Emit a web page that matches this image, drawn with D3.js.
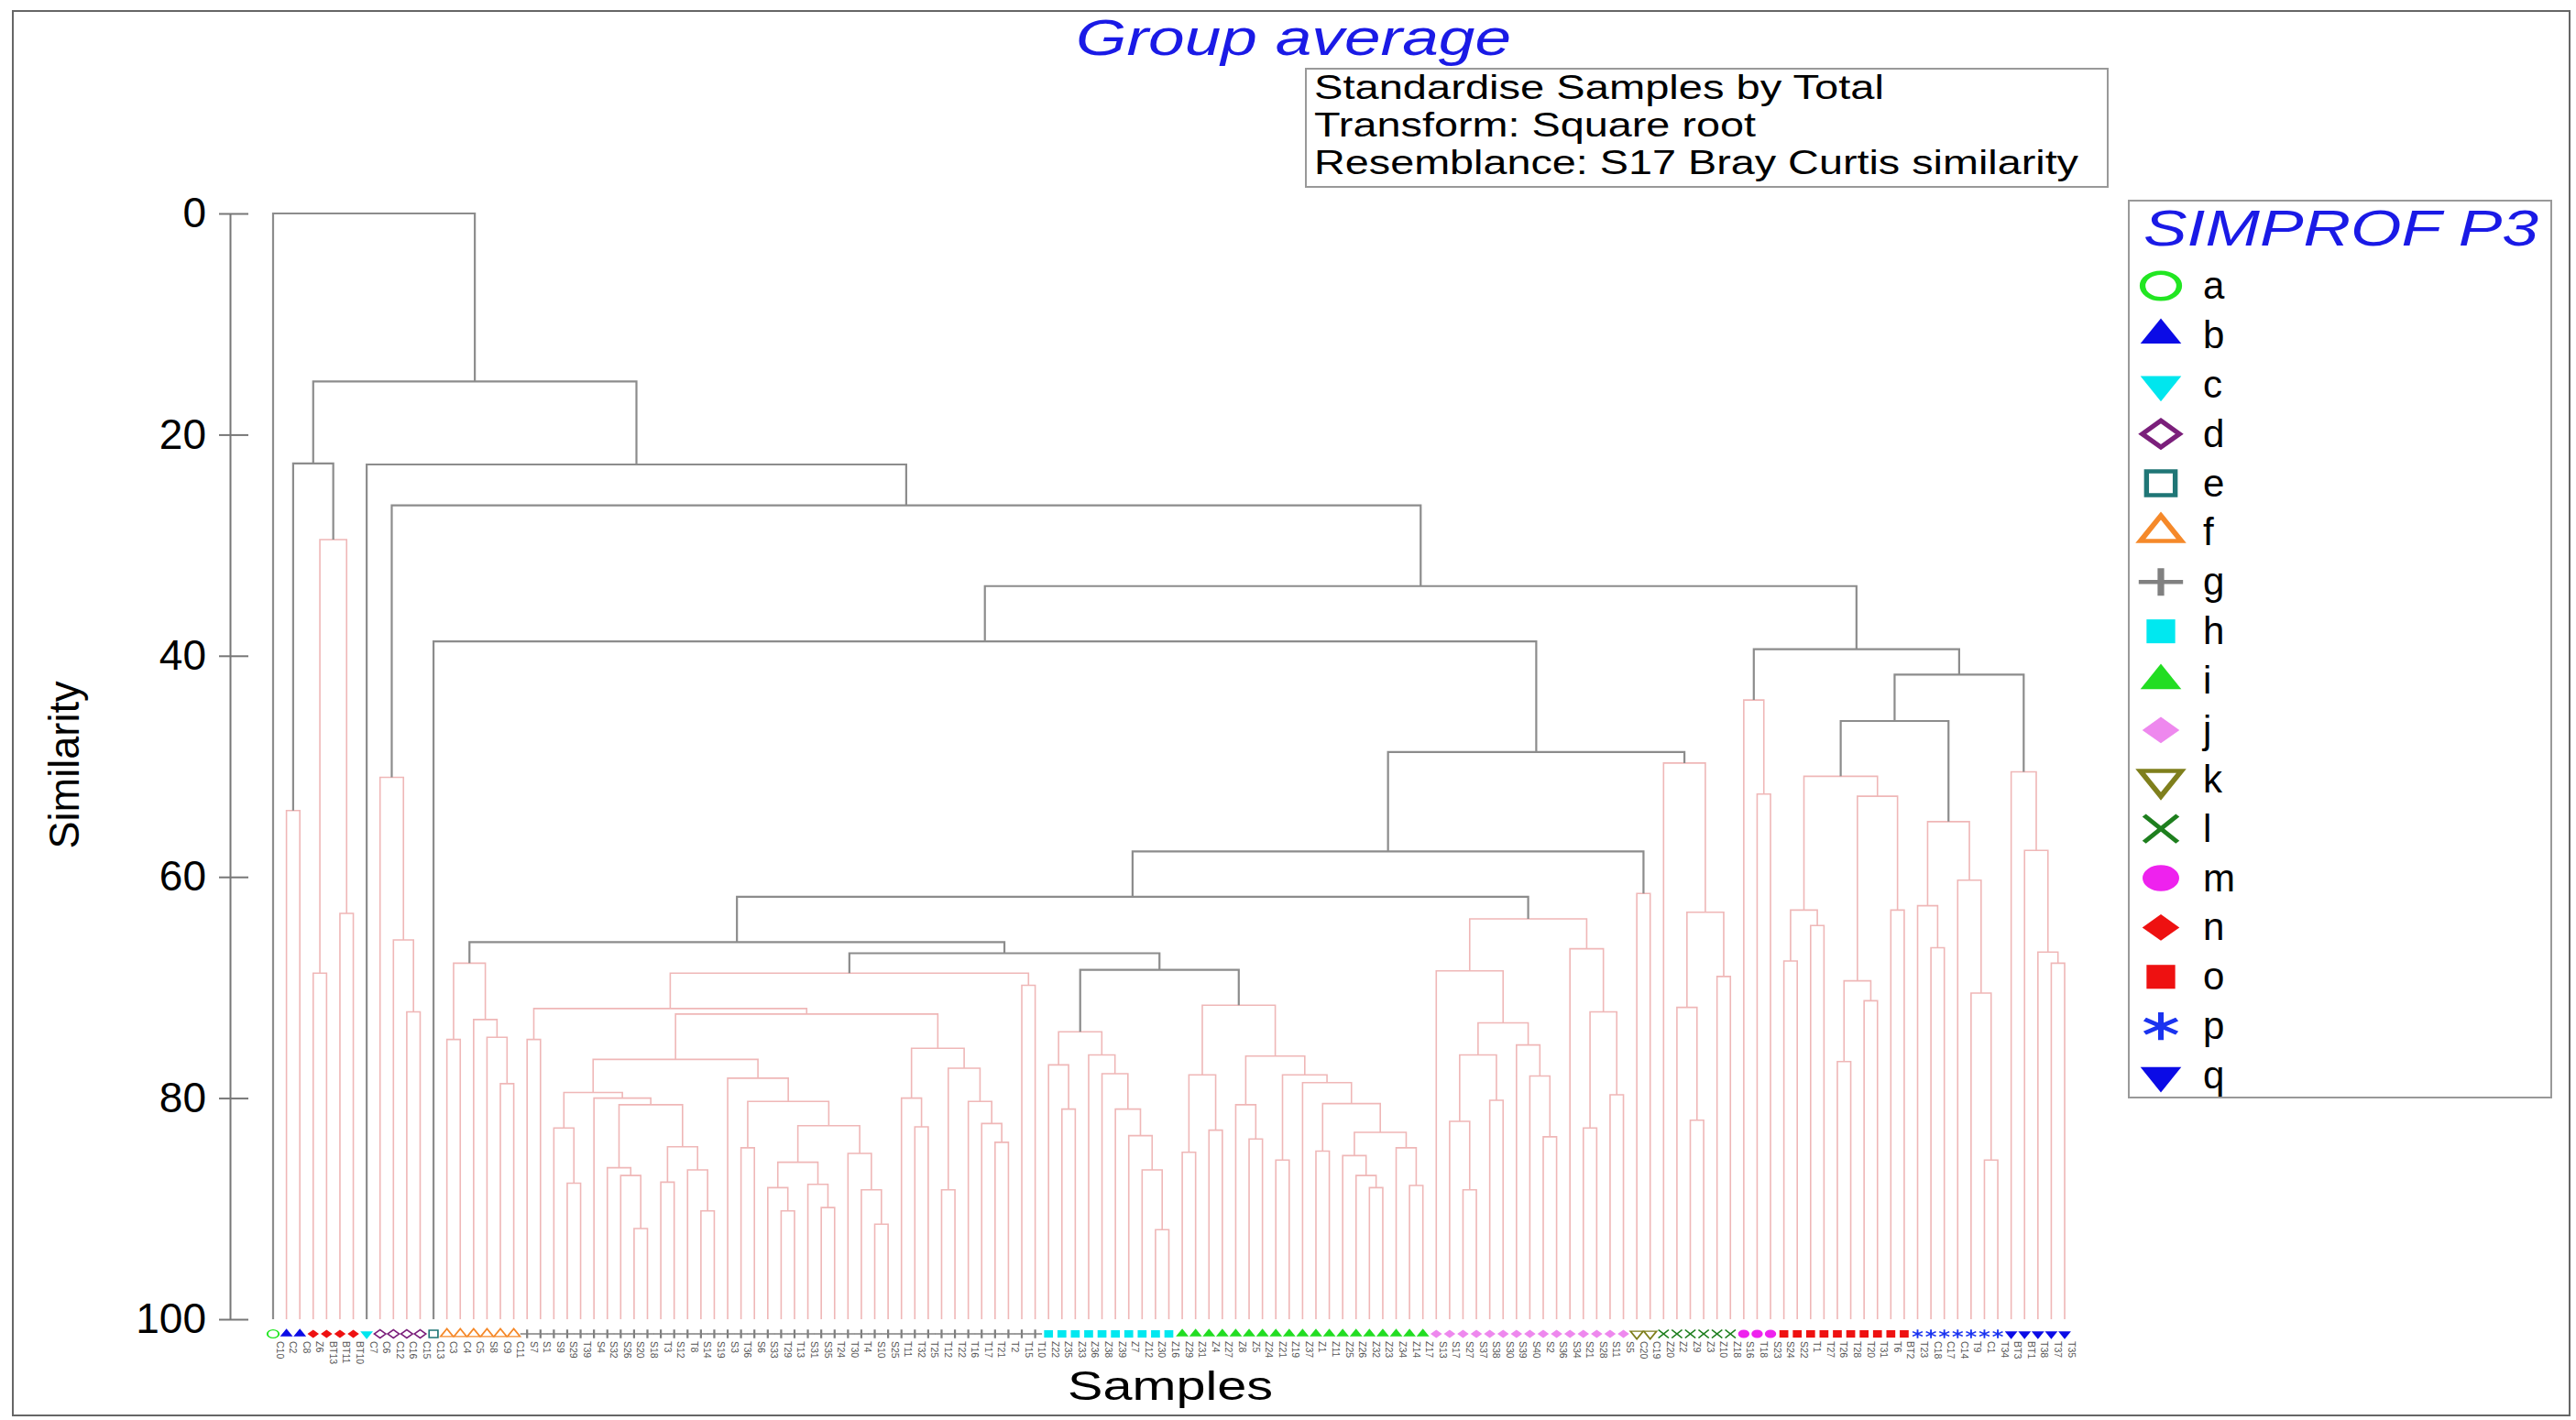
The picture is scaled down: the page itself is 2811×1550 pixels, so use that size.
<!DOCTYPE html>
<html>
<head>
<meta charset="utf-8">
<script src="https://cdn.jsdelivr.net/npm/d3@7"></script>
<style>
  body { margin: 0; background: #fff; }
  svg { display: block; font-family: "Liberation Sans", Arial, sans-serif; }
</style>
</head>
<body>
<svg id="chart"></svg>
<script>
// ---------------- data ----------------
const yTickValues = [0, 20, 40, 60, 80, 100];
const groupKeys = ['a','b','c','d','e','f','g','h','i','j','k','l','m','n','o','p','q'];

const sampleLabels = [
  'C10',
  'C2','C8',
  'Z6','BT13','BT11','BT10',
  'C7',
  'C6','C12','C16','C15',
  'C13',
  'C3','C4','C5','S8','C9','C11',
  'S7','S1','S9','S29','T39','S4','S32','S26','S20','S18',
  'T3','S12','T8','S14','S19','S3','T36','S6','S33','T29',
  'T13','S31','S35','T24','T30','T4','S10','S25','T11','T32',
  'T25','T12','T22','T16','T17','T21','T2','T15','T10',
  'Z22','Z35','Z33','Z36','Z38','Z39','Z7','Z12','Z30','Z16',
  'Z29','Z31','Z4','Z27','Z8','Z5','Z24','Z21','Z19','Z37',
  'Z1','Z11','Z25','Z26','Z32','Z23','Z34','Z14','Z17',
  'S13','S17','S27','S37','S38','S30','S39','S40','S2','S36',
  'S34','S21','S28','S11','S5',
  'C20','C19',
  'Z20','Z2','Z9','Z3','Z10','Z18',
  'S16','T18','S23',
  'S24','S22','T1','T27','T26','T28','T20','T31','T6','BT2',
  'T23','C18','C17','C14','T9','C1','T34',
  'BT3','BT1','T38','T37','T35'
];

// SIMPROF group of every sample, in leaf order
const sampleGroups = (
  'a' + 'bb' + 'nnnn' + 'c' + 'dddd' + 'e' + 'ffffff' +
  'gggggggggg' + 'gggggggggg' + 'gggggggggg' + 'ggggggggg' +
  'hhhhhhhhhh' +
  'iiiiiiiiii' + 'iiiiiiiii' +
  'jjjjjjjjjj' + 'jjjjj' +
  'kk' + 'llllll' + 'mmm' +
  'oooooooooo' + 'ppppppp' + 'qqqqq'
).split('');

// merges: [similarity, left, right]; numbers are sample indices
const clusterBN = [22.6, [54.0, 1, 2], [29.5, [68.7, 3, 4], [63.3, 5, 6]]];
const clusterD = [51.0, 8, [65.7, 9, [72.2, 10, 11]]];
const clusterF = [67.8, [74.7, 13, 14], [72.9, 15, [74.5, 16, [78.7, 17, 18]]]];

const gN4 = [79.5, [82.7, 21, [87.7, 22, 23]],
  [80.0, 24, [80.6, [86.3, 25, [87.0, 26, [91.8, 27, 28]]],
                    [84.4, [87.6, 29, 30], [86.5, 31, [90.2, 32, 33]]]]]];
const gBLR = [78.2, 34, [80.3, [84.5, 35, 36],
  [82.5, [85.8, [88.1, 37, [90.2, 38, 39]], [87.8, 40, [89.9, 41, 42]]],
         [85.0, 43, [88.3, 44, [91.4, 45, 46]]]]]];
const gBR = [75.5, [80.0, 47, [82.6, 48, 49]],
  [77.3, [88.3, 50, 51], [80.3, 52, [82.3, 53, [84.0, 54, 55]]]]];
const clusterG = [68.7, [71.9, [74.7, 19, 20], [72.4, [76.5, gN4, gBLR], gBR]], [69.8, 56, 57]];

const clusterH = [74.0, [77.0, 58, [81.0, 59, 60]],
  [76.1, 61, [77.8, 62, [81.0, 63, [83.4, 64, [86.5, 65, [91.9, 66, 67]]]]]]];
const clusterI = [71.6, [77.9, [84.9, 68, 69], [82.9, 70, 71]],
  [76.2, [80.6, 72, [83.7, 73, 74]],
    [77.9, [85.6, 75, 76],
      [78.6, 77, [80.5, [84.8, 78, 79],
        [83.1, [85.2, 80, [87.0, 81, [88.1, 82, 83]]], [84.5, 84, [87.9, 85, 86]]]]]]]];
const clusterJ = [63.8,
  [68.5, 87, [73.2, [76.1, [82.1, 88, [88.3, 89, 90]], [80.2, 91, 92]],
                    [75.2, 93, [78.0, 94, [83.5, 95, 96]]]]],
  [66.5, 97, [72.2, [82.7, 98, 99], [79.7, 100, 101]]]];
const clusterK = [61.5, 102, 103];
const clusterL = [49.7, 104, [63.2, [71.8, 105, [82.0, 106, 107]], [69.0, 108, 109]]];
const clusterM = [44.0, 110, [52.5, 111, 112]];
const clusterO = [50.9, [63.0, [67.6, 113, 114], [64.4, 115, 116]],
  [52.7, [69.4, [76.7, 117, 118], [71.2, 119, 120]], [63.0, 121, 122]]];
const clusterP = [55.0, [62.6, 123, [66.4, 124, 125]], [60.3, 126, [70.5, 127, [85.6, 128, 129]]]];
const clusterQ = [50.5, 130, [57.6, 131, [66.8, 132, [67.8, 133, 134]]]];

// upper (SIMPROF significant) joins
const upperLeft = [48.7,
  [57.7, [61.8, [65.9, clusterF, [66.9, clusterG, [68.4, clusterH, clusterI]]], clusterJ], clusterK],
  clusterL];
const upperRight = [39.4, clusterM, [41.7, [45.9, clusterO, clusterP], clusterQ]];
const treeRoot = [0, 0, [15.2, clusterBN, [22.7, 7, [26.4, clusterD, [33.7, [38.7, 12, upperLeft], upperRight]]]]];

// ---------------- styles ----------------
const W = 2811, H = 1550;
const pinkLine = '#efb7b7', grayLine = '#8c8c8c';

const wideDiamond = {
  draw(ctx, size) {
    const r = Math.sqrt(size / 2);
    ctx.moveTo(0, -r); ctx.lineTo(r, 0); ctx.lineTo(0, r); ctx.lineTo(-r, 0); ctx.closePath();
  }
};
const shapes = {
  circle:   { type: d3.symbolCircle,   size: 640, sx: 1.4, rot: 0 },
  triUp:    { type: d3.symbolTriangle, size: 440, sx: 1.4, rot: 0 },
  triDown:  { type: d3.symbolTriangle, size: 440, sx: 1.4, rot: 180 },
  diamond:  { type: wideDiamond,       size: 420, sx: 1.4, rot: 0 },
  square:   { type: d3.symbolSquare,   size: 680, sx: 1.2, rot: 0 },
  plus:     { type: d3.symbolPlus,     size: 300, sx: 1.6, rot: 0 },
  times:    { type: d3.symbolTimes,    size: 560, sx: 1.25, rot: 0 },
  asterisk: { type: d3.symbolAsterisk, size: 640, sx: 1.35, rot: 0 }
};
const groupStyle = {
  a: { shape: 'circle',   fill: false, color: '#22e622' },
  b: { shape: 'triUp',    fill: true,  color: '#0b0be6' },
  c: { shape: 'triDown',  fill: true,  color: '#00e6ee' },
  d: { shape: 'diamond',  fill: false, color: '#7b1f7b' },
  e: { shape: 'square',   fill: false, color: '#1f7676' },
  f: { shape: 'triUp',    fill: false, color: '#f5892a' },
  g: { shape: 'plus',     fill: false, color: '#808080' },
  h: { shape: 'square',   fill: true,  color: '#00e8f0' },
  i: { shape: 'triUp',    fill: true,  color: '#22dd22' },
  j: { shape: 'diamond',  fill: true,  color: '#ee88ee' },
  k: { shape: 'triDown',  fill: false, color: '#7f7f1c' },
  l: { shape: 'times',    fill: false, color: '#1e7f1e' },
  m: { shape: 'circle',   fill: true,  color: '#ee22ee' },
  n: { shape: 'diamond',  fill: true,  color: '#ee1111' },
  o: { shape: 'square',   fill: true,  color: '#ee1111' },
  p: { shape: 'asterisk', fill: false, color: '#1a33f0' },
  q: { shape: 'triDown',  fill: true,  color: '#0b0be6' }
};

function drawSymbol(sel, g, cx, cy, k) {
  const st = groupStyle[g], sh = shapes[st.shape];
  sel.append('path')
    .attr('d', d3.symbol(sh.type, sh.size)())
    .attr('transform', `translate(${cx},${cy}) scale(${sh.sx * k},${k}) rotate(${sh.rot})`)
    .attr('fill', st.fill ? st.color : 'none')
    .attr('stroke', st.color)
    .attr('stroke-width', st.fill ? 0 : 4.5);
}

// ---------------- chart ----------------
const svg = d3.select('#chart').attr('width', W).attr('height', H);
svg.append('rect').attr('width', W).attr('height', H).attr('fill', '#fff');
svg.append('rect')
  .attr('x', 14).attr('y', 12).attr('width', 2790).attr('height', 1533)
  .attr('fill', 'none').attr('stroke', '#666').attr('stroke-width', 2);

const x = d3.scalePoint().domain(d3.range(sampleLabels.length)).range([298, 2253]);
const y = d3.scaleLinear().domain([0, 100]).range([233, 1440]);

const root = d3.hierarchy(treeRoot, d => Array.isArray(d) ? d.slice(1) : null);
root.eachAfter(n => {
  if (n.children) {
    n.sim = n.data[0];
    n.px = (n.children[0].px + n.children[1].px) / 2;
    n.sig = new Set(n.leaves().map(l => sampleGroups[l.data])).size > 1;
  } else {
    n.sim = 100;
    n.px = x(n.data);
  }
});

const joins = root.descendants().filter(n => n.children);
joins.sort((a, b) => a.sig - b.sig);
svg.append('g').selectAll('path')
  .data(joins)
  .join('path')
  .attr('fill', 'none')
  .attr('stroke', d => d.sig ? grayLine : pinkLine)
  .attr('stroke-width', d => d.sig ? 2.2 : 1.6)
  .attr('d', d => {
    const [c0, c1] = d.children;
    return `M${c0.px},${y(c0.sim)}V${y(d.sim)}H${c1.px}V${y(c1.sim)}`;
  });

// leaf symbols and labels
const leafG = svg.append('g');
sampleLabels.forEach((lab, i) => {
  drawSymbol(leafG, sampleGroups[i], x(i), 1456, 0.31);
  leafG.append('text')
    .attr('transform', `translate(${x(i) + 3.5},1464) rotate(90)`)
    .attr('font-size', 10.5)
    .attr('fill', '#555')
    .text(lab);
});

// y axis
const yAxis = d3.axisLeft(y).tickValues(yTickValues).tickSize(12).tickSizeOuter(0).tickPadding(14);
const ga = svg.append('g').attr('transform', 'translate(251,0)').call(yAxis);
ga.select('.domain').attr('stroke', '#777').attr('stroke-width', 2);
ga.selectAll('.tick line').attr('x1', 20).attr('x2', -12).attr('stroke', '#777').attr('stroke-width', 2);
ga.selectAll('.tick text')
  .attr('font-size', 46)
  .attr('fill', '#000')
  .attr('font-family', '"Liberation Sans", Arial, sans-serif');

svg.append('text')
  .attr('transform', 'translate(86,835) rotate(-90)')
  .attr('text-anchor', 'middle')
  .attr('font-size', 46)
  .attr('textLength', 183).attr('lengthAdjust', 'spacingAndGlyphs')
  .text('Similarity');

svg.append('text')
  .attr('x', 1277).attr('y', 1528)
  .attr('text-anchor', 'middle')
  .attr('font-size', 44)
  .attr('textLength', 224).attr('lengthAdjust', 'spacingAndGlyphs')
  .text('Samples');

// title
svg.append('text')
  .attr('x', 1174).attr('y', 60)
  .attr('font-size', 56).attr('font-style', 'italic')
  .attr('fill', '#1a1ae6')
  .attr('textLength', 475).attr('lengthAdjust', 'spacingAndGlyphs')
  .text('Group average');

// info box
const infoLines = ['Standardise Samples by Total', 'Transform: Square root', 'Resemblance: S17 Bray Curtis similarity'];
const infoLen = [622, 482, 834];
svg.append('rect')
  .attr('x', 1425).attr('y', 75).attr('width', 875).attr('height', 129)
  .attr('fill', '#fff').attr('stroke', '#999').attr('stroke-width', 2);
svg.append('g').selectAll('text')
  .data(infoLines)
  .join('text')
  .attr('x', 1434)
  .attr('y', (d, i) => 108 + i * 41)
  .attr('font-size', 36)
  .attr('textLength', (d, i) => infoLen[i]).attr('lengthAdjust', 'spacingAndGlyphs')
  .text(d => d);

// legend
const legend = svg.append('g');
legend.append('rect')
  .attr('x', 2323).attr('y', 219).attr('width', 461).attr('height', 979)
  .attr('fill', '#fff').attr('stroke', '#999').attr('stroke-width', 2);
legend.append('text')
  .attr('x', 2339).attr('y', 268)
  .attr('font-size', 56).attr('font-style', 'italic')
  .attr('fill', '#1a1ae6')
  .attr('textLength', 431).attr('lengthAdjust', 'spacingAndGlyphs')
  .text('SIMPROF P3');
const legendY = d3.scalePoint().domain(groupKeys).range([312, 1174]);
groupKeys.forEach(g => {
  drawSymbol(legend, g, 2358, legendY(g), 1);
  legend.append('text')
    .attr('x', 2404).attr('y', legendY(g) + 14)
    .attr('font-size', 42)
    .text(g);
});
</script>
</body>
</html>
